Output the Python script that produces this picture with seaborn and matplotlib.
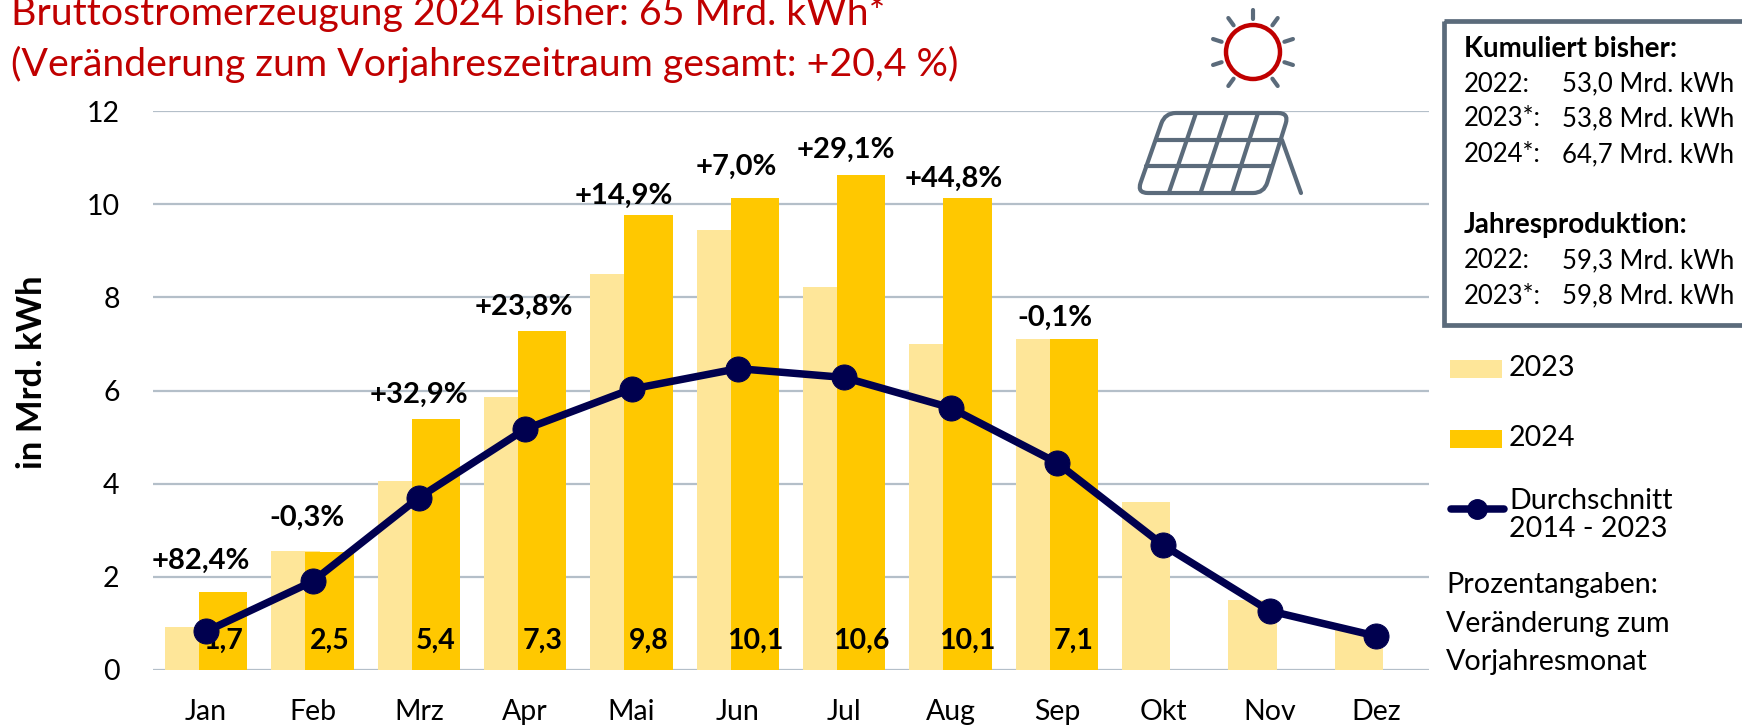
import numpy as np
import pandas as pd
import matplotlib
matplotlib.use("Agg")
import matplotlib.pyplot as plt
from matplotlib.lines import Line2D
from matplotlib.patches import Rectangle, Ellipse, PathPatch
from matplotlib.path import Path
from matplotlib.transforms import Affine2D
import seaborn as sns

months = ["Jan", "Feb", "Mrz", "Apr", "Mai", "Jun", "Jul", "Aug", "Sep", "Okt", "Nov", "Dez"]
values_2023 = [0.92, 2.55, 4.05, 5.86, 8.5, 9.45, 8.22, 7.0, 7.1, 3.6, 1.5, 0.85]
values_2024 = [1.68, 2.53, 5.38, 7.27, 9.77, 10.13, 10.63, 10.13, 7.1]
average = [0.83, 1.9, 3.7, 5.17, 6.03, 6.47, 6.28, 5.63, 4.45, 2.68, 1.27, 0.73]
changes = ["+82,4%", "-0,3%", "+32,9%", "+23,8%", "+14,9%", "+7,0%", "+29,1%", "+44,8%", "-0,1%"]
value_labels = ["1,7", "2,5", "5,4", "7,3", "9,8", "10,1", "10,6", "10,1", "7,1"]
title_lines = ["Bruttostromerzeugung 2024 bisher: 65 Mrd. kWh*",
               "(Veränderung zum Vorjahreszeitraum gesamt: +20,4 %)"]
box_rows = [("Kumuliert bisher:", "", 49, True),
            ("2022:", "53,0 Mrd. kWh", 84, False),
            ("2023*:", "53,8 Mrd. kWh", 119, False),
            ("2024*:", "64,7 Mrd. kWh", 155, False),
            ("Jahresproduktion:", "", 225, True),
            ("2022:", "59,3 Mrd. kWh", 261, False),
            ("2023*:", "59,8 Mrd. kWh", 296, False)]

C23, C24, NAVY, GRID, SLATE, RED = "#FEE699", "#FFC800", "#00004F", "#B4BFC9", "#5B6B7B", "#C00000"

sns.set_theme(style="white")
plt.rcParams["font.family"] = ["Lato", "DejaVu Sans"]

W, H = 1742, 726
fig = plt.figure(figsize=(W / 100, H / 100), dpi=100)
ax = fig.add_axes([153 / W, 1 - 670 / H, (1429 - 153) / W, (670 - 111) / H])
px = Affine2D().scale(1, -1).translate(0, H)

pos = np.arange(12)
OFF, BW = 0.16, 0.453
sns.barplot(x=pos - OFF, y=values_2023, native_scale=True, width=BW, color=C23, saturation=1, linewidth=0, ax=ax, zorder=2)
sns.barplot(x=pos[:len(values_2024)] + OFF, y=values_2024, native_scale=True, width=BW, color=C24, saturation=1, linewidth=0, ax=ax, zorder=3)
for t, xv in zip(value_labels, pos + OFF):
    ax.text(xv, 0.62, t, ha="center", va="center", fontsize=20.5, fontweight="bold", color="black", zorder=4)
sns.lineplot(x=pos, y=average, color=NAVY, lw=5.4, marker="o", ms=18, mec=NAVY, ax=ax, zorder=5, legend=False)
label_dx = [0.8, 0.8, 4.8, 4.0, -0.8, 3.2, 5.6, 7.2, 3.2]
label_dy = [22, 24, 17.5, 17.5, 13.5, 22.6, 17.8, 14, 15.5]
for i, t in enumerate(changes):
    top = max(values_2023[i], values_2024[i])
    ax.annotate(t, (pos[i] - 0.06, top), xytext=(label_dx[i], label_dy[i]), textcoords="offset points",
                ha="center", va="center", fontsize=21, fontweight="bold", color="black", zorder=6)

ax.set_xlim(-0.5, 11.5)
ax.set_ylim(0, 12)
ax.set_xticks(pos)
ax.set_xticklabels(months)
ax.set_yticks(range(0, 13, 2))
ax.set_xlabel("")
ax.set_ylabel("")
ax.tick_params(axis="x", length=0, pad=21, labelsize=20.5, colors="black")
ax.tick_params(axis="y", length=0, pad=24, labelsize=20.5, colors="black")
ax.grid(axis="y", color=GRID, lw=1.6, zorder=0)
ax.set_axisbelow(True)
sns.despine(ax=ax, left=True, top=True, right=True, bottom=True)

def T(x, y, s, **kw):
    kw.setdefault("va", "center")
    kw.setdefault("fontsize", 20.6)
    kw.setdefault("color", "black")
    return fig.text(x, y, s, transform=px, **kw)

def L(xs, ys, color=SLATE, lw=3.0):
    fig.add_artist(Line2D(xs, ys, transform=px, color=color, lw=lw, solid_capstyle="round", solid_joinstyle="round"))

T(11, 13, title_lines[0], fontsize=28.3, color=RED)
T(11, 64, title_lines[1], fontsize=28.3, color=RED)
T(32, 372, "in Mrd. kWh", rotation=90, ha="center", fontweight="bold", fontsize=25)

# Info box
fig.add_artist(Rectangle((1444, 21), 320, 304, transform=px, fill=False, ec=SLATE, lw=3.4))
for a, b, y, bold in box_rows:
    T(1464, y, a, fontweight="bold" if bold else "normal", fontsize=20 if bold else 18.5)
    if b:
        T(1562, y, b, fontsize=18.5)

# Legend
fig.add_artist(Rectangle((1450, 360), 52, 18, transform=px, fc=C23, ec="none"))
fig.add_artist(Rectangle((1450, 430), 52, 18, transform=px, fc=C24, ec="none"))
T(1509, 368, "2023")
T(1509, 438, "2024")
L([1451, 1504], [509, 509], color=NAVY, lw=5.4)
fig.add_artist(Line2D([1477], [509], transform=px, marker="o", ms=14, color=NAVY))
T(1509, 501, "Durchschnitt")
T(1509, 529, "2014 - 2023")
T(1446, 585, "Prozentangaben:")
T(1446, 624, "Veränderung zum")
T(1446, 662, "Vorjahresmonat")

# Sun icon
sx, sy, sr = 1253, 52, 27
fig.add_artist(Ellipse((sx, sy), 2 * sr, 2 * sr, transform=px, fill=False, ec=RED, lw=3.2))
for ang in np.deg2rad(np.arange(-90, 270, 36)):
    if np.isclose(np.rad2deg(ang), 90):
        continue
    L([sx + 33 * np.cos(ang), sx + 42 * np.cos(ang)], [sy + 33 * np.sin(ang), sy + 42 * np.sin(ang)], lw=3.0)

# Solar panel icon
tl, tr, br, bl = np.array([1165, 113.]), np.array([1289, 113.]), np.array([1264, 193.]), np.array([1137, 193.])
corners = [tl, tr, br, bl]
verts, codes = [], []
for i, c in enumerate(corners):
    prev_c, next_c = corners[i - 1], corners[(i + 1) % 4]
    r = 11
    a = c + (prev_c - c) / np.linalg.norm(prev_c - c) * r
    b = c + (next_c - c) / np.linalg.norm(next_c - c) * r
    verts += [a, c, b]
    codes += [Path.MOVETO if i == 0 else Path.LINETO, Path.CURVE3, Path.CURVE3]
verts.append(verts[0])
codes.append(Path.CLOSEPOLY)
fig.add_artist(PathPatch(Path(verts, codes), transform=px, fill=False, ec=SLATE, lw=3.0))
for f in (1 / 3, 2 / 3):
    a, b = tl + (bl - tl) * f, tr + (br - tr) * f
    L([a[0], b[0]], [a[1], b[1]])
for f in (0.25, 0.5, 0.75):
    a, b = tl + (tr - tl) * f, bl + (br - bl) * f
    L([a[0], b[0]], [a[1], b[1]])
L([1282, 1301], [140, 193])

fig.savefig("out.png", dpi=100, facecolor="white")
